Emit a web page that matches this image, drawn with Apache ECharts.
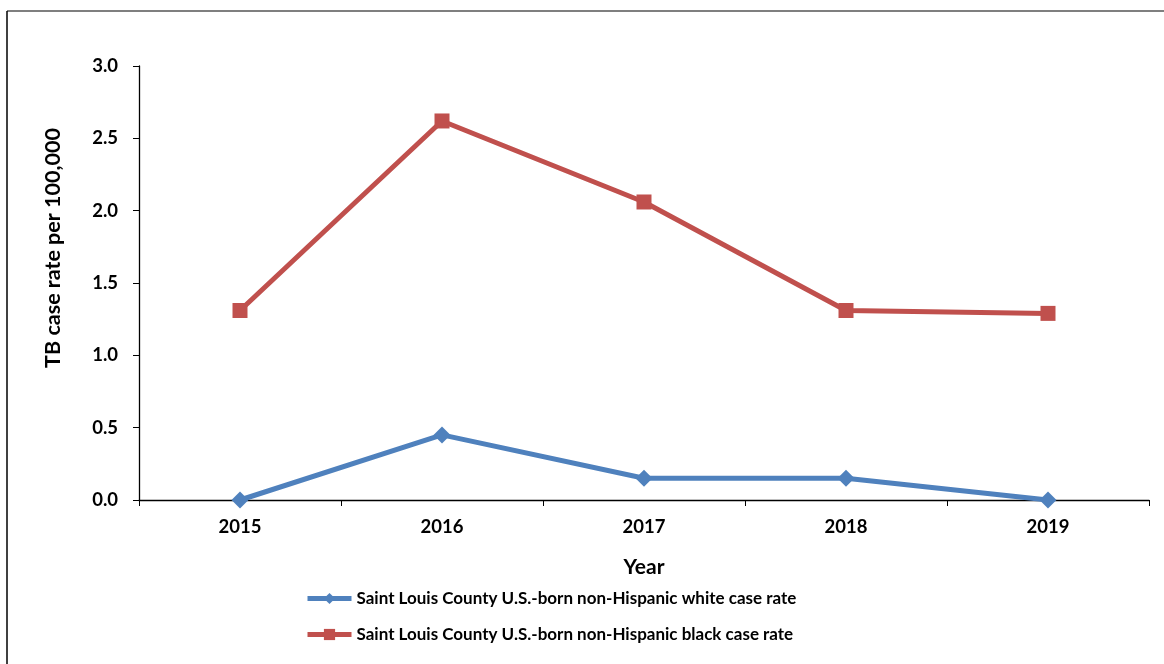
<!DOCTYPE html>
<html>
<head>
<meta charset="utf-8">
<script src="https://cdn.jsdelivr.net/npm/echarts@6/dist/echarts.min.js"></script>
<style>
html,body{margin:0;padding:0;background:#fff;}
#chart{width:1164px;height:664px;}
</style>
</head>
<body>
<div id="chart"></div>
<script>
const years = ['2015', '2016', '2017', '2018', '2019'];
const whiteRate = [0.0, 0.45, 0.15, 0.15, 0.0];
const blackRate = [1.31, 2.62, 2.06, 1.31, 1.29];
const whiteName = 'Saint Louis County U.S.-born non-Hispanic white case rate';
const blackName = 'Saint Louis County U.S.-born non-Hispanic black case rate';

const FONT = 'Lato';
const chart = echarts.init(document.getElementById('chart'));
chart.setOption({
  backgroundColor: '#fff',
  animation: false,
  textStyle: { fontFamily: FONT },
  grid: { left: 139, top: 66, right: 15, bottom: 164 },
  legend: {
    orient: 'vertical',
    left: 305,
    top: 590,
    padding: 0,
    itemWidth: 44,
    itemHeight: 14,
    itemGap: 19,
    lineStyle: { width: 5 },
    textStyle: { fontFamily: FONT, fontWeight: 'bold', fontSize: 17, color: '#000' },
    data: [whiteName, blackName]
  },
  xAxis: {
    type: 'category',
    data: years,
    boundaryGap: true,
    name: 'Year',
    nameLocation: 'middle',
    nameGap: 57,
    nameTextStyle: { fontFamily: FONT, fontWeight: 'bold', fontSize: 21, color: '#000' },
    axisLine: { lineStyle: { color: '#000', width: 1.3 } },
    axisTick: { show: true, length: 6, lineStyle: { color: '#000' } },
    axisLabel: { margin: 18, fontFamily: FONT, fontWeight: 'bold', fontSize: 18.5, color: '#000' },
    splitLine: { show: false }
  },
  yAxis: {
    type: 'value',
    min: 0,
    max: 3,
    interval: 0.5,
    axisLine: { show: true, lineStyle: { color: '#000', width: 1.3 } },
    axisTick: { show: true, length: 6, lineStyle: { color: '#000' } },
    axisLabel: {
      margin: 21, fontFamily: FONT, fontWeight: 'bold', fontSize: 18.5, color: '#000',
      formatter: v => v.toFixed(1)
    },
    splitLine: { show: false }
  },
  series: [
    {
      name: whiteName,
      type: 'line',
      data: whiteRate,
      symbol: 'diamond',
      symbolSize: 17,
      lineStyle: { color: '#4F81BD', width: 5 },
      itemStyle: { color: '#4F81BD' },
      z: 3
    },
    {
      name: blackName,
      type: 'line',
      data: blackRate,
      symbol: 'rect',
      symbolSize: 15,
      lineStyle: { color: '#C0504D', width: 5 },
      itemStyle: { color: '#C0504D' },
      z: 2
    }
  ],
  graphic: [
    {
      type: 'text',
      x: 53, y: 248,
      rotation: Math.PI / 2,
      style: {
        text: 'TB case rate per 100,000',
        fontFamily: FONT, fontWeight: 'bold', fontSize: 21.5, fill: '#000',
        align: 'center', verticalAlign: 'middle'
      }
    },
    { type: 'line', shape: { x1: 7, y1: 11, x2: 1164, y2: 11 }, style: { stroke: '#555', lineWidth: 1.5 } },
    { type: 'line', shape: { x1: 7, y1: 11, x2: 7, y2: 664 }, style: { stroke: '#000', lineWidth: 1.5 } }
  ]
});
</script>
</body>
</html>
